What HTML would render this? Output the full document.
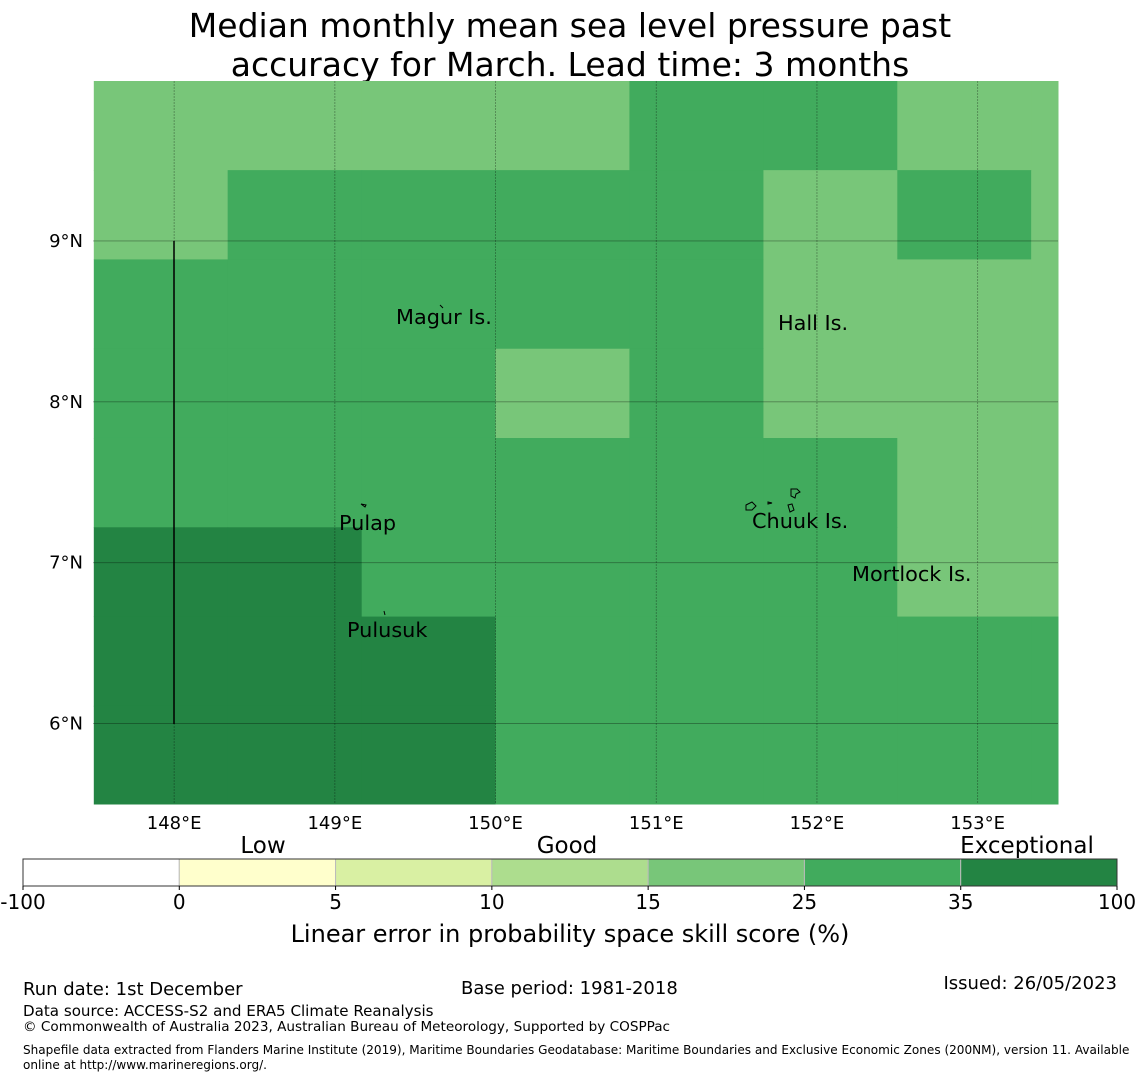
<!DOCTYPE html>
<html><head><meta charset="utf-8"><style>
body{margin:0;background:#fff;width:1140px;height:1080px;overflow:hidden}
svg{display:block;font-family:"DejaVu Sans","Liberation Sans",sans-serif}
</style></head><body>
<svg id="c" width="1140" height="1080" viewBox="0 0 1140 1080">
<text x="570" y="37" font-size="33" text-anchor="middle">Median monthly mean sea level pressure past</text>
<text x="570" y="76" font-size="33" text-anchor="middle">accuracy for March. Lead time: 3 months</text>
<g id="cells"></g>
<g id="grid"></g>
<line x1="174" y1="241" x2="174" y2="724" stroke="#000" stroke-width="1.5"/>
<g font-size="20.8">
<text x="396" y="324">Magur Is.</text>
<text x="778" y="330">Hall Is.</text>
<text x="339" y="530">Pulap</text>
<text x="752" y="528">Chuuk Is.</text>
<text x="852" y="581">Mortlock Is.</text>
<text x="347" y="637">Pulusuk</text>
</g>
<g fill="none" stroke="#000" stroke-width="1">
<path d="M791 489 l6 0 l3 3 l-4 2 l-1 4 l-4 -2 z M746 505 l6 -3 l4 4 l-4 4 l-6 0 z M788 505 l4 -1 l2 6 l-4 2 z M768 502 l4 1 l-4 1 z M361 504 l5 1 l-1 2 z M384 611 l1 4 M440 305 l3 3"/>
</g>
<g id="axes"></g>
<g id="cbar"></g>
<text x="263" y="853" font-size="23" text-anchor="middle">Low</text>
<text x="567" y="853" font-size="23" text-anchor="middle">Good</text>
<text x="1027" y="853" font-size="23" text-anchor="middle">Exceptional</text>
<text x="570" y="942" font-size="24" text-anchor="middle">Linear error in probability space skill score (%)</text>
<text x="23" y="995" font-size="18">Run date: 1st December</text>
<text x="461" y="994" font-size="18">Base period: 1981-2018</text>
<text x="1117" y="989" font-size="18" text-anchor="end">Issued: 26/05/2023</text>
<text x="23" y="1016" font-size="15.1">Data source: ACCESS-S2 and ERA5 Climate Reanalysis</text>
<text x="23" y="1031" font-size="13.6">© Commonwealth of Australia 2023, Australian Bureau of Meteorology, Supported by COSPPac</text>
<text x="23" y="1054" font-size="12.05">Shapefile data extracted from Flanders Marine Institute (2019), Maritime Boundaries Geodatabase: Maritime Boundaries and Exclusive Economic Zones (200NM), version 11. Available</text>
<text x="23" y="1069" font-size="12.05">online at http://www.marineregions.org/.</text>
</svg>
<script>
// grid cell lon/lat origins (cell lower-left), and skill values per row (top to bottom)
const lonStarts = [147.5, 148.333, 149.167, 150, 150.833, 151.667, 152.5, 153.333];
const latTops = [10.0, 9.44, 8.885, 8.33, 7.775, 7.22, 6.665, 6.11];
const skill = [
 [20,20,20,20,30,30,20,20],
 [20,30,30,30,30,20,30,20],
 [30,30,30,30,30,20,20,20],
 [30,30,30,20,30,20,20,20],
 [30,30,30,30,30,30,20,20],
 [40,40,30,30,30,30,20,20],
 [40,40,40,30,30,30,30,30],
 [40,40,40,30,30,30,30,30]
];
const lonTicks = [148,149,150,151,152,153];
const latTicks = [6,7,8,9];
const cbBounds = [-100,0,5,10,15,25,35,100];
const cbColors = ['#ffffff','#ffffcc','#d9f0a3','#addd8e','#78c679','#41ab5d','#238443'];

const X0=93,X1=1058,Y0=81,Y1=804, LON0=147.495, LON1=153.5, LAT0=5.5, LAT1=9.994;
const xs = lon => X0 + (lon-LON0)/(LON1-LON0)*(X1-X0);
const ys = lat => Y1 - (lat-LAT0)/(LAT1-LAT0)*(Y1-Y0);
const NS='http://www.w3.org/2000/svg';
function mk(tag, attrs, parent){const e=document.createElementNS(NS,tag);for(const k in attrs)e.setAttribute(k,attrs[k]);parent.appendChild(e);return e;}
function colorOf(v){for(let i=0;i<cbColors.length;i++){if(v<cbBounds[i+1])return cbColors[i];}return cbColors[cbColors.length-1];}

const cells=document.getElementById('cells');
skill.forEach((row,r)=>row.forEach((v,c)=>{
  const xa=Math.max(X0,xs(lonStarts[c])), xb=Math.min(X1,c+1<lonStarts.length?xs(lonStarts[c+1]):X1);
  const ya=Math.max(Y0,ys(latTops[r])), yb=r+1<latTops.length?ys(latTops[r+1]):Y1;
  const el=mk('rect',{x:xa,y:ya,width:xb-xa+0.5,height:yb-ya+0.5,fill:colorOf(v)},cells);
  
  
}));

const grid=document.getElementById('grid'), axes=document.getElementById('axes');
lonTicks.forEach(l=>{
  const x=xs(l);
  const g=mk('line',{x1:x,y1:Y0,x2:x,y2:Y1,stroke:'#000','stroke-opacity':0.35,'stroke-width':0.8,'stroke-dasharray':'2,1'},grid);
  
  
  const t=mk('text',{x:x,y:829,'font-size':18,'text-anchor':'middle'},axes);
  t.textContent=l+'°E';
  
  
});
latTicks.forEach(l=>{
  const y=ys(l);
  const g=mk('line',{x1:X0,y1:y,x2:X1,y2:y,stroke:'#000','stroke-opacity':0.35,'stroke-width':0.8},grid);
  
  
  const t=mk('text',{x:83,y:y+6,'font-size':18,'text-anchor':'end'},axes);
  t.textContent=l+'°N';
  
  
});

const cb=document.getElementById('cbar');
const CX0=23,CX1=1117,CY=859,CH=27,seg=(CX1-CX0)/cbColors.length;
cbColors.forEach((col,i)=>{
  const r=mk('rect',{x:CX0+i*seg,y:CY,width:seg,height:CH,fill:col,stroke:'#bbb','stroke-width':1},cb);
  
  
});
const fr=mk('rect',{x:CX0,y:CY,width:CX1-CX0,height:CH,fill:'none',stroke:'#333','stroke-width':1},cb);


cbBounds.forEach((b,i)=>{
  const x=CX0+i*seg;
  const tk=mk('line',{x1:x,y1:CY+CH,x2:x,y2:CY+CH+4,stroke:'#000'},cb);
  
  
  const t=mk('text',{x:x,y:909,'font-size':20,'text-anchor':'middle'},cb);
  t.textContent=b;
  
  
});
</script>
</body></html>
